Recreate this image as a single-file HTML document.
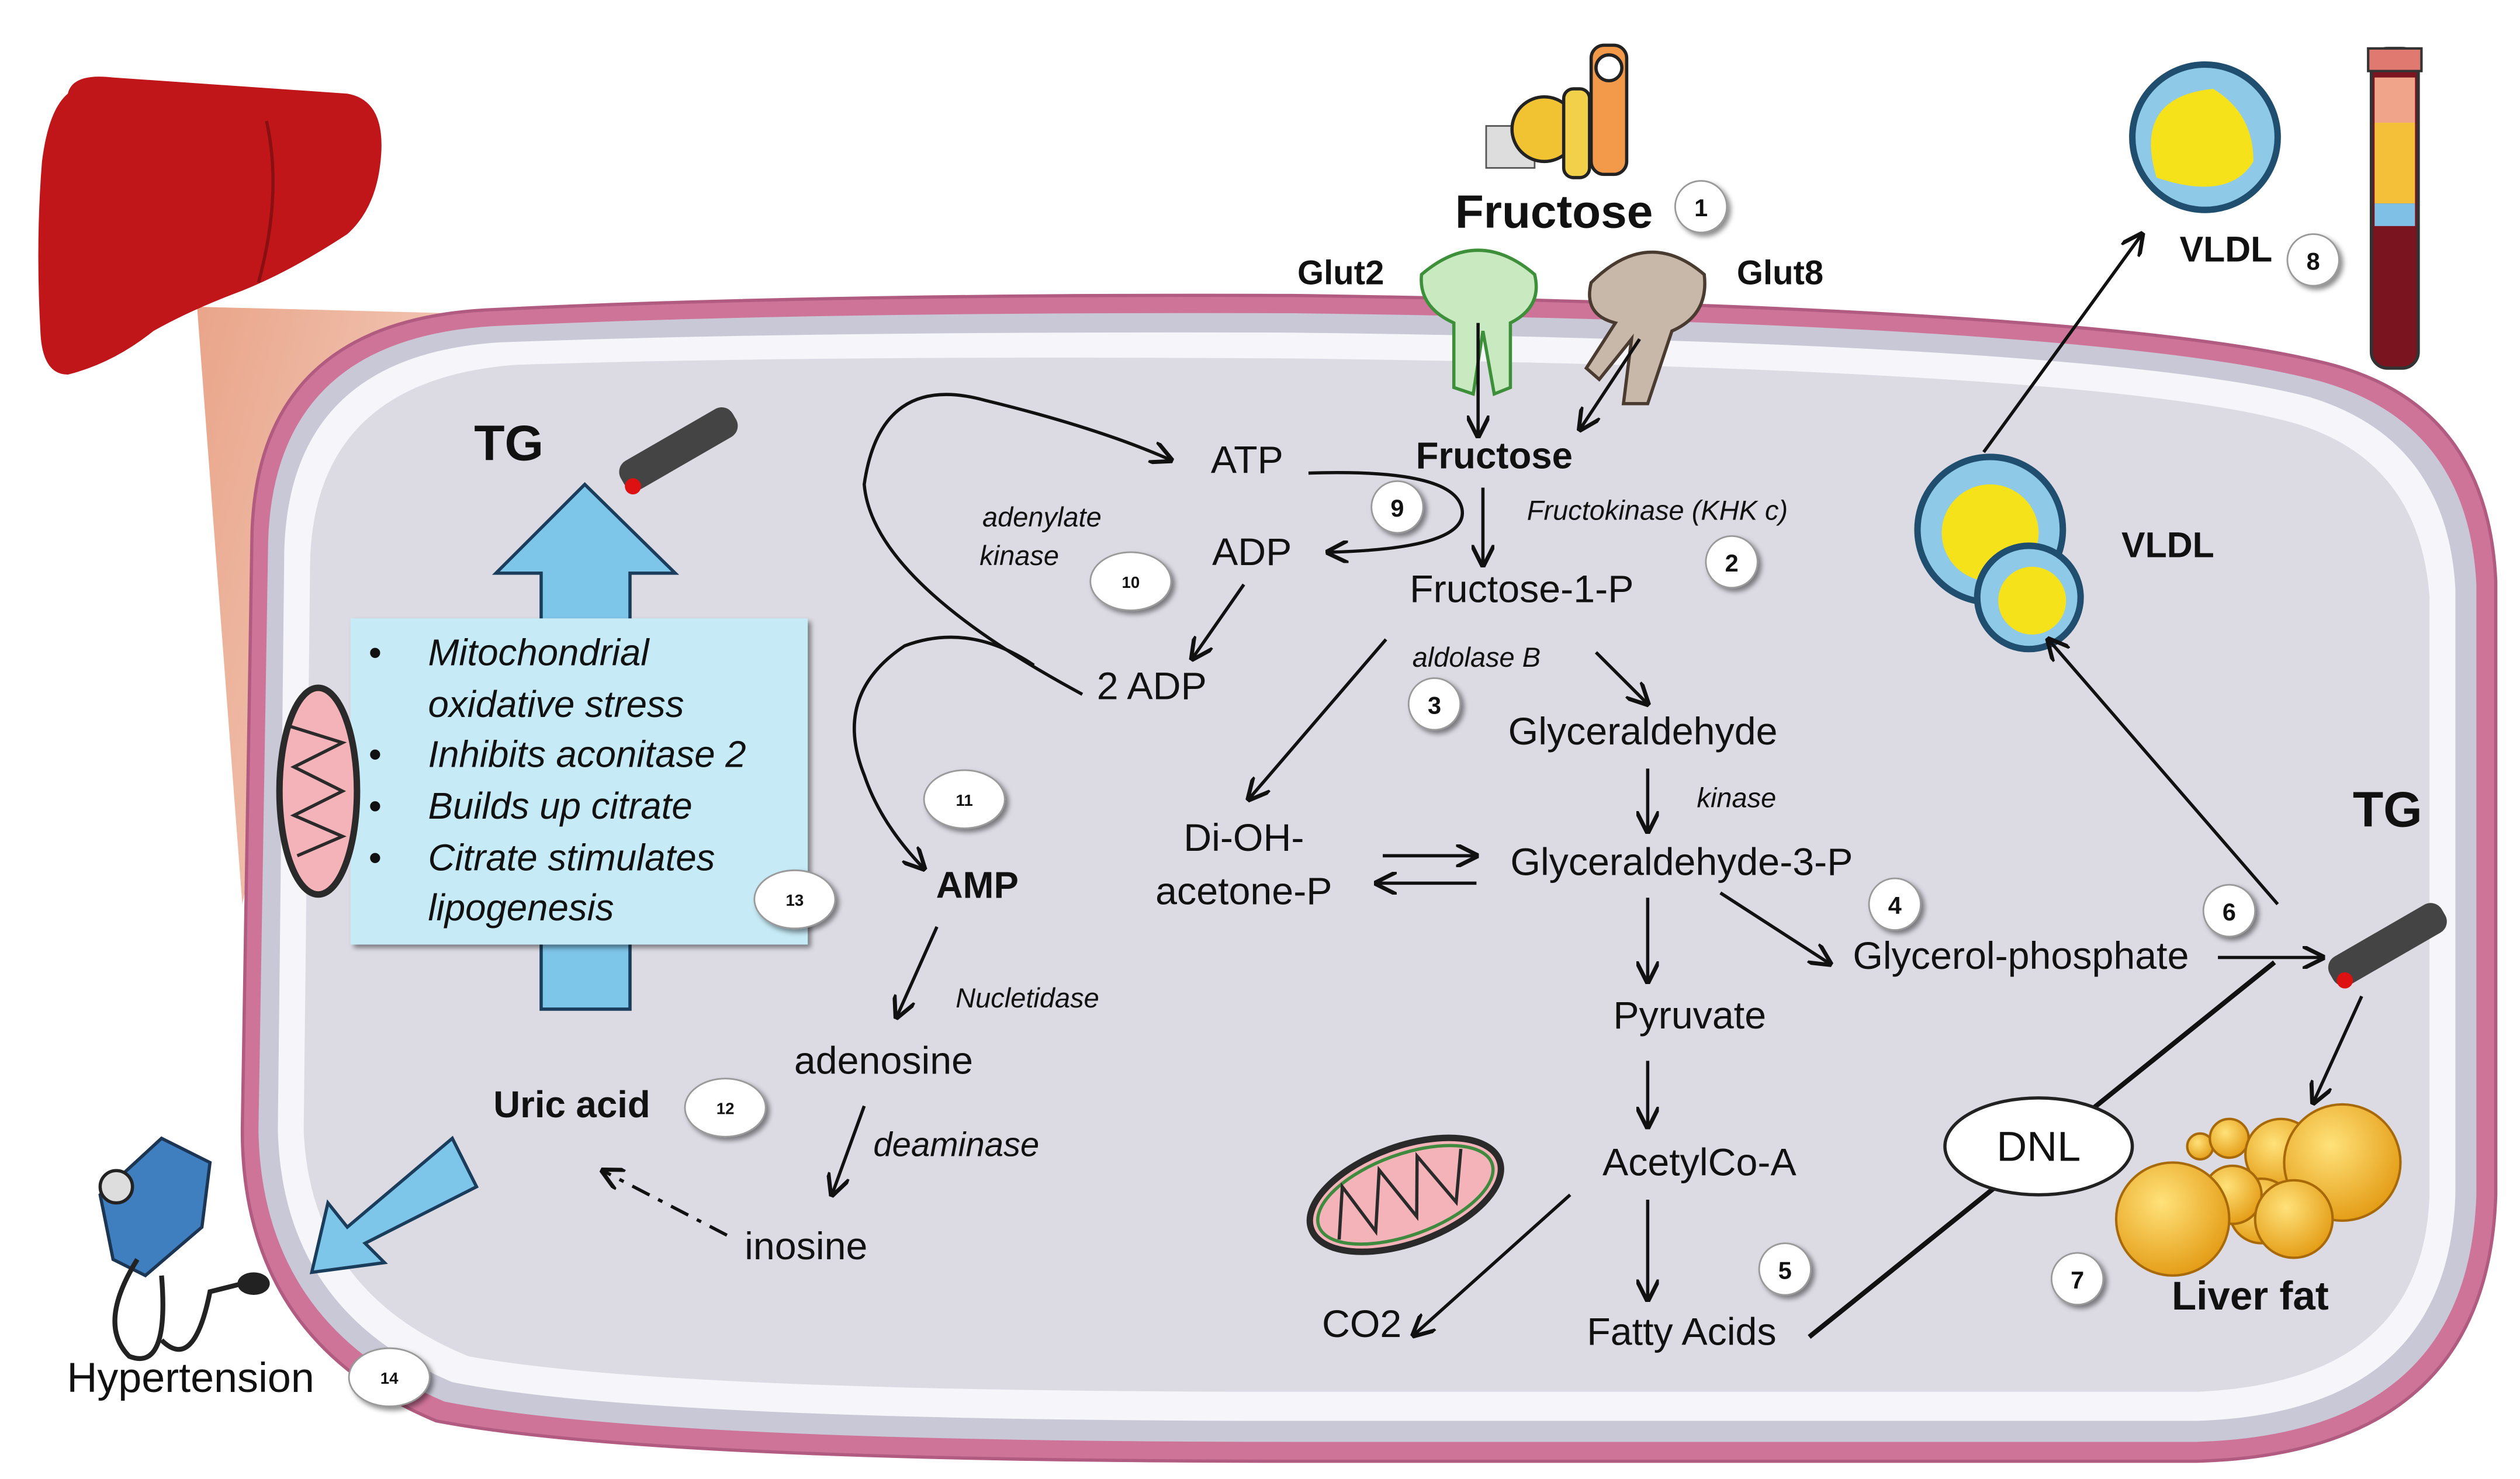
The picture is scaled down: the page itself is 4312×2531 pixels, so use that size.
<!DOCTYPE html>
<html><head><meta charset="utf-8"><style>
html,body{margin:0;padding:0;background:#fff}
svg{display:block}
text{font-family:"Liberation Sans",sans-serif;fill:#111}
.b{font-weight:bold}
.i{font-style:italic}
</style></head><body>
<svg width="4312" height="2531" viewBox="0 0 1560 916" preserveAspectRatio="none" xmlns="http://www.w3.org/2000/svg">
<defs>
<linearGradient id="fan" x1="0" y1="0" x2="1" y2="0.3">
<stop offset="0" stop-color="#e9a58a"/><stop offset="1" stop-color="#fbe7de"/></linearGradient>
<marker id="ah" viewBox="0 0 10 10" refX="9" refY="5" markerWidth="7" markerHeight="7" orient="auto-start-reverse">
<path d="M0,0 L10,5 L0,10" fill="none" stroke="#111" stroke-width="1.8"/></marker>
<filter id="sh"><feDropShadow dx="2" dy="2" stdDeviation="1.5" flood-opacity="0.45"/></filter>
<radialGradient id="fat" cx="0.4" cy="0.35" r="0.7"><stop offset="0" stop-color="#ffe27a"/><stop offset="1" stop-color="#e39a12"/></radialGradient>
</defs>
<rect width="1560" height="916" fill="#fff"/>
<path d="M122,190 L440,198 L200,330 L150,560 Z" fill="url(#fan)"/>
<!-- liver -->
<path d="M42,58 Q45,45 70,48 L215,58 Q238,62 236,95 Q234,128 215,145 Q180,168 150,180 Q118,192 95,205 Q70,225 42,232 Q26,232 25,205 Q22,150 26,100 Q30,68 42,58Z" fill="#c0161a"/>
<path d="M165,75 Q175,120 160,175" stroke="#8a0f12" stroke-width="2" fill="none"/>
<!-- cell -->
<path d="M300,192 Q160,200 156,330 L150,700 Q150,830 270,880 Q400,905 800,905 L1360,905 Q1540,900 1545,740 L1545,360 Q1540,250 1440,225 Q1300,190 800,183 Q500,182 300,192Z" fill="#cf7499" stroke="#b15b80" stroke-width="2"/>
<path d="M305,202 Q170,210 166,335 L160,700 Q162,820 275,868 Q400,893 800,893 L1360,893 Q1528,888 1533,740 L1533,362 Q1528,262 1436,236 Q1300,200 800,194 Q500,193 305,202Z" fill="#c9c8d6"/>
<path d="M310,212 Q180,220 176,340 L172,700 Q175,812 280,856 Q400,880 800,880 L1360,880 Q1515,875 1520,740 L1520,365 Q1515,272 1430,246 Q1300,212 800,206 Q500,205 310,212Z" fill="#f6f6fa"/>
<path d="M318,226 Q196,236 192,346 L188,700 Q192,800 290,840 Q410,862 800,862 L1360,862 Q1500,856 1504,740 L1504,370 Q1498,285 1420,262 Q1300,228 800,222 Q500,220 318,226Z" fill="#dcdbe4"/>

<rect x="920" y="78" width="30" height="26" fill="#ddd" stroke="#555"/>
<circle cx="956" cy="80" r="20" fill="#f1c232" stroke="#222" stroke-width="2"/>
<rect x="968" y="55" width="16" height="55" rx="6" fill="#f2d04a" stroke="#222" stroke-width="2"/>
<rect x="985" y="28" width="22" height="80" rx="8" fill="#f29a4a" stroke="#222" stroke-width="2"/>
<circle cx="996" cy="42" r="8" fill="#fff" stroke="#222" stroke-width="2"/>
<text x="962" y="141" font-size="29" class="b" text-anchor="middle">Fructose</text>
<path d="M880,170 Q915,140 950,170 Q955,190 935,200 L935,240 L925,244 L918,205 L912,244 L900,240 L900,200 Q878,190 880,170Z" fill="#c9eac1" stroke="#3d8f3a" stroke-width="2"/>
<path d="M985,175 Q1020,140 1055,170 Q1058,195 1035,205 L1020,250 L1005,250 L1010,210 L990,235 L982,228 L1000,200 Q980,195 985,175Z" fill="#c7b8aa" stroke="#4a3b30" stroke-width="2"/>
<text x="830" y="176" font-size="21" class="b" text-anchor="middle">Glut2</text>
<text x="1102" y="176" font-size="21" class="b" text-anchor="middle">Glut8</text>

<circle cx="1365" cy="85" r="45" fill="#8fc9e8" stroke="#1f4e6e" stroke-width="4"/>
<path d="M1335,110 Q1320,60 1370,55 Q1395,70 1395,100 Q1380,125 1335,110Z" fill="#f5e21a"/>
<text x="1378" y="162" font-size="22" class="b" text-anchor="middle">VLDL</text>
<rect x="1468" y="30" width="29" height="198" rx="10" fill="#7a1520" stroke="#333" stroke-width="2"/>
<rect x="1470" y="48" width="25" height="28" fill="#f0a58a"/>
<rect x="1470" y="76" width="25" height="50" fill="#f4c03a"/>
<rect x="1470" y="126" width="25" height="14" fill="#7fc0e6"/>
<rect x="1466" y="30" width="33" height="14" fill="#e07a70" stroke="#333" stroke-width="1.5"/>

<circle cx="1232" cy="328" r="45" fill="#8fc9e8" stroke="#1f4e6e" stroke-width="4"/>
<circle cx="1232" cy="330" r="30" fill="#f5e21a"/>
<circle cx="1256" cy="370" r="32" fill="#8fc9e8" stroke="#1f4e6e" stroke-width="4"/>
<circle cx="1258" cy="372" r="21" fill="#f5e21a"/>
<text x="1342" y="345" font-size="22" class="b" text-anchor="middle">VLDL</text>

<text x="315" y="285" font-size="31" class="b" text-anchor="middle">TG</text>
<g transform="translate(420,278) rotate(-30)">
<rect x="-40" y="-10" width="80" height="20" rx="8" fill="#444"/>
<circle cx="-36" cy="6" r="5" fill="#d11"/></g>
<path d="M335,625 L335,355 L307,355 L362,300 L418,355 L390,355 L390,625Z" fill="#7ec5ea" stroke="#1a3d5c" stroke-width="2"/>
<rect x="217" y="383" width="283" height="202" fill="#c6eaf6" filter="url(#sh)"/>
<g font-size="23" class="i">
<text x="265" y="412" class="i">Mitochondrial</text>
<text x="265" y="444" class="i">oxidative stress</text>
<text x="265" y="475" class="i">Inhibits aconitase 2</text>
<text x="265" y="507" class="i">Builds up citrate</text>
<text x="265" y="539" class="i">Citrate stimulates</text>
<text x="265" y="570" class="i">lipogenesis</text>
<text x="228" y="412">•</text><text x="228" y="475">•</text><text x="228" y="507">•</text><text x="228" y="539">•</text>
</g>
<ellipse cx="197" cy="490" rx="24" ry="64" fill="#f4b3b8" stroke="#2a2a2a" stroke-width="4"/>
<path d="M180,450 L212,460 L182,475 L212,490 L182,505 L212,518 L184,530" stroke="#2a2a2a" stroke-width="2" fill="none"/>

<path d="M295,735 L280,705 L215,760 L203,745 L193,788 L238,782 L226,770Z" fill="#7ec5ea" stroke="#1a3d5c" stroke-width="2"/>
<path d="M62,740 L100,705 L130,720 L125,760 L90,790 L70,780Z" fill="#3f7fbf" stroke="#1b3553" stroke-width="2"/>
<circle cx="72" cy="735" r="10" fill="#ddd" stroke="#222" stroke-width="2"/>
<path d="M85,780 Q60,820 80,840 Q105,850 100,790 M100,830 Q120,850 130,800 L150,795" stroke="#222" stroke-width="3" fill="none"/>
<ellipse cx="157" cy="795" rx="10" ry="7" fill="#222"/>
<text x="118" y="862" font-size="26" text-anchor="middle">Hypertension</text>

<g font-size="24">
<text x="772" y="293" text-anchor="middle">ATP</text>
<text x="925" y="290" text-anchor="middle" class="b" font-size="23">Fructose</text>
<text x="775" y="350" text-anchor="middle">ADP</text>
<text x="942" y="373" text-anchor="middle">Fructose-1-P</text>
<text x="713" y="433" text-anchor="middle">2 ADP</text>
<text x="1017" y="461" text-anchor="middle">Glyceraldehyde</text>
<text x="770" y="527" text-anchor="middle">Di-OH-</text>
<text x="770" y="560" text-anchor="middle">acetone-P</text>
<text x="1041" y="542" text-anchor="middle">Glyceraldehyde-3-P</text>
<text x="1251" y="600" text-anchor="middle">Glycerol-phosphate</text>
<text x="605" y="556" text-anchor="middle" class="b" font-size="23">AMP</text>
<text x="547" y="665" text-anchor="middle">adenosine</text>
<text x="354" y="692" text-anchor="middle" class="b" font-size="23">Uric acid</text>
<text x="499" y="780" text-anchor="middle">inosine</text>
<text x="1046" y="637" text-anchor="middle">Pyruvate</text>
<text x="1052" y="728" text-anchor="middle">AcetylCo-A</text>
<text x="843" y="828" text-anchor="middle">CO2</text>
<text x="1041" y="833" text-anchor="middle">Fatty Acids</text>
</g>
<text x="1478" y="512" font-size="31" class="b" text-anchor="middle">TG</text>
<text x="1393" y="811" font-size="25" class="b" text-anchor="middle">Liver fat</text>
<g font-size="17" class="i">
<text x="1026" y="322" text-anchor="middle" class="i">Fructokinase (KHK c)</text>
<text x="645" y="326" text-anchor="middle" class="i">adenylate</text>
<text x="631" y="350" text-anchor="middle" class="i">kinase</text>
<text x="914" y="413" text-anchor="middle" class="i">aldolase B</text>
<text x="1075" y="500" text-anchor="middle" class="i">kinase</text>
<text x="636" y="624" text-anchor="middle" class="i">Nucletidase</text>
</g>
<text x="592" y="716" font-size="21" class="i" text-anchor="middle">deaminase</text>

<g stroke="#111" stroke-width="2" fill="none" marker-end="url(#ah)">
<line x1="915" y1="200" x2="915" y2="270"/>
<line x1="1015" y1="210" x2="978" y2="266"/>
<line x1="918" y1="302" x2="918" y2="350"/>
<path d="M810,293 Q900,290 905,315 Q910,340 822,342"/>
<path d="M670,430 Q540,360 535,300 Q545,230 610,248 Q680,265 725,285"/>
<path d="M640,412 Q600,385 560,400 Q515,430 535,480 Q545,510 572,538"/>
<line x1="770" y1="362" x2="738" y2="408"/>
<line x1="858" y1="396" x2="773" y2="495"/>
<line x1="988" y1="404" x2="1020" y2="436"/>
<line x1="1020" y1="476" x2="1020" y2="515"/>
<line x1="856" y1="530" x2="914" y2="530"/>
<line x1="914" y1="547" x2="852" y2="547"/>
<line x1="1065" y1="553" x2="1133" y2="597"/>
<line x1="1020" y1="556" x2="1020" y2="608"/>
<line x1="1020" y1="657" x2="1020" y2="698"/>
<line x1="1020" y1="743" x2="1020" y2="805"/>
<line x1="972" y1="740" x2="875" y2="827"/>
<line x1="1373" y1="593" x2="1438" y2="593"/>
<line x1="1410" y1="560" x2="1268" y2="396"/>
<line x1="1228" y1="280" x2="1326" y2="145"/>
<line x1="1462" y1="617" x2="1432" y2="683"/>
<line x1="580" y1="574" x2="555" y2="630"/>
<line x1="535" y1="685" x2="515" y2="740"/>
<line x1="450" y1="765" x2="373" y2="725" stroke-dasharray="12,6,3,6"/>
</g>
<line x1="1120" y1="828" x2="1408" y2="596" stroke="#111" stroke-width="3"/>

<g transform="translate(1478,585) rotate(-30)">
<rect x="-40" y="-10" width="80" height="20" rx="8" fill="#444"/>
<circle cx="-34" cy="6" r="5" fill="#d11"/></g>

<g transform="translate(870,740) rotate(-20)">
<ellipse rx="62" ry="30" fill="#f4b3b8" stroke="#2a2a2a" stroke-width="4"/>
<ellipse rx="57" ry="25" fill="none" stroke="#3e8a3e" stroke-width="2"/>
<path d="M-48,12 L-35,-18 L-25,15 L-10,-20 L2,15 L15,-20 L28,15 L42,-15" stroke="#2a2a2a" stroke-width="2" fill="none"/>
</g>

<g stroke="#a86a08" stroke-width="1.5" fill="url(#fat)">
<circle cx="1362" cy="710" r="8"/><circle cx="1380" cy="705" r="12"/><circle cx="1350" cy="730" r="9"/>
<circle cx="1412" cy="715" r="22"/><circle cx="1400" cy="750" r="20"/><circle cx="1382" cy="740" r="18"/>
<circle cx="1450" cy="720" r="36"/><circle cx="1420" cy="755" r="24"/>
<circle cx="1345" cy="755" r="35"/>
</g>
<ellipse cx="1262" cy="710" rx="58" ry="30" fill="#fff" stroke="#222" stroke-width="2"/>
<text x="1262" y="719" font-size="26" text-anchor="middle">DNL</text>

<g filter="url(#sh)" fill="#fff" stroke="#999" stroke-width="1">
<circle cx="1053" cy="128" r="16"/><circle cx="1072" cy="348" r="16"/><circle cx="888" cy="436" r="16"/>
<circle cx="1173" cy="560" r="16"/><circle cx="1105" cy="786" r="16"/><circle cx="1380" cy="564" r="16"/>
<circle cx="1286" cy="792" r="16"/><circle cx="1432" cy="161" r="16"/><circle cx="865" cy="314" r="16"/>
<ellipse cx="700" cy="360" rx="25" ry="18"/><ellipse cx="597" cy="495" rx="25" ry="18"/>
<ellipse cx="449" cy="686" rx="25" ry="18"/><ellipse cx="492" cy="557" rx="25" ry="18"/>
<ellipse cx="241" cy="853" rx="25" ry="18"/>
</g>
<g font-size="15" class="b" text-anchor="middle">
<text x="1053" y="134">1</text><text x="1072" y="354">2</text><text x="888" y="442">3</text>
<text x="1173" y="566">4</text><text x="1105" y="792">5</text><text x="1380" y="570">6</text>
<text x="1286" y="798">7</text><text x="1432" y="167">8</text><text x="865" y="320">9</text>
</g>
<g font-size="10" class="b" text-anchor="middle">
<text x="700" y="364">10</text><text x="597" y="499">11</text><text x="449" y="690">12</text>
<text x="492" y="561">13</text><text x="241" y="857">14</text>
</g>
</svg>
</body></html>
